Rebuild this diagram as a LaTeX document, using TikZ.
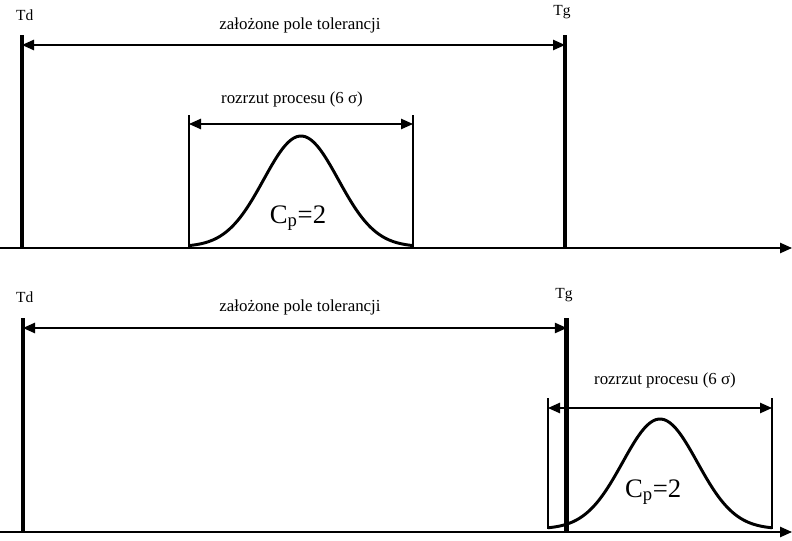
\documentclass[tikz,border=0pt]{standalone}
\usepackage{fontspec}
\setmainfont{Liberation Serif}
\usetikzlibrary{arrows.meta}

\begin{document}
\begin{tikzpicture}[
  tolline/.style={line width=3.4pt},
  thinline/.style={line width=1pt},
  dimarrow/.style={{Triangle[length=3mm,width=2.6mm]}-{Triangle[length=3mm,width=2.6mm]}, line width=1pt},
  baseaxis/.style={-{Triangle[length=3mm,width=2.6mm]}, line width=1pt},
  bell/.style={line width=2.1pt, line join=round},
  tname/.style={font=\fontsize{11}{13}\selectfont, inner sep=0pt},
  txt/.style={font=\fontsize{12}{14}\selectfont, inner sep=0pt},
  cp/.style={font=\fontsize{19}{22}\selectfont, inner sep=0pt}
]
\useasboundingbox (0,0) rectangle (19.8,13.5);

% Upper case: process inside the tolerance field
\coordinate (axA0) at (0,7.3);
\coordinate (axA1) at (19.8,7.3);
\draw[baseaxis] (axA0) -- (axA1);

\coordinate (tdA) at (0.55,7.3);
\coordinate (tdAtop) at (0.55,12.625);
\coordinate (tgA) at (14.125,7.3);
\coordinate (tgAtop) at (14.125,12.625);
\draw[tolline] (tdA) -- (tdAtop);
\draw[tolline] (tgA) -- (tgAtop);
\node[tname] (tdAlab) at (0.62,13.12) {Td};
\node[tname] (tgAlab) at (14.05,13.2) {Tg};

\coordinate (tolAl) at (0.55,12.375);
\coordinate (tolAr) at (14.125,12.375);
\draw[dimarrow] (tolAl) -- (tolAr);
\node[txt] (tolAlab) at (7.5,12.875) {założone pole tolerancji};

% process spread
\coordinate (prAl) at (4.725,7.33);
\coordinate (prAltop) at (4.725,10.625);
\coordinate (prAr) at (10.325,7.33);
\coordinate (prArtop) at (10.325,10.625);
\draw[thinline] (prAl) -- (prAltop);
\draw[thinline] (prAr) -- (prArtop);
\coordinate (sprAl) at (4.725,10.4);
\coordinate (sprAr) at (10.325,10.4);
\draw[dimarrow] (sprAl) -- (sprAr);
\node[txt] (sprAlab) at (7.3,11.025) {rozrzut procesu (6 σ)};

\draw[bell] plot[domain=-3:3, samples=80, smooth] ({7.525+0.9333*\x}, {7.33+2.77*exp(-\x*\x/2)});
\node[cp] (cpA) at (7.45,8.05) {C\textsubscript{p}=2};

% Lower case: process shifted over the upper limit
\coordinate (axB0) at (0,0.2);
\coordinate (axB1) at (19.8,0.2);
\draw[baseaxis] (axB0) -- (axB1);

\coordinate (tdB) at (0.575,0.2);
\coordinate (tdBtop) at (0.575,5.55);
\coordinate (tgB) at (14.17,0.2);
\coordinate (tgBtop) at (14.17,5.55);
\draw[tolline] (tdB) -- (tdBtop);
\draw[tolline] (tgB) -- (tgBtop);
\node[tname] (tdBlab) at (0.62,6.075) {Td};
\node[tname] (tgBlab) at (14.1,6.125) {Tg};

\coordinate (tolBl) at (0.575,5.3);
\coordinate (tolBr) at (14.17,5.3);
\draw[dimarrow] (tolBl) -- (tolBr);
\node[txt] (tolBlab) at (7.5,5.825) {założone pole tolerancji};

% process spread
\coordinate (prBl) at (13.7,0.275);
\coordinate (prBltop) at (13.7,3.55);
\coordinate (prBr) at (19.3,0.275);
\coordinate (prBrtop) at (19.3,3.55);
\draw[thinline] (prBl) -- (prBltop);
\draw[thinline] (prBr) -- (prBrtop);
\coordinate (sprBl) at (13.7,3.3);
\coordinate (sprBr) at (19.3,3.3);
\draw[dimarrow] (sprBl) -- (sprBr);
\node[txt] (sprBlab) at (16.625,4.0) {rozrzut procesu (6 σ)};

\draw[bell] plot[domain=-3:3, samples=80, smooth] ({16.5+0.9333*\x}, {0.275+2.75*exp(-\x*\x/2)});
\node[cp] (cpB) at (16.33,1.2) {C\textsubscript{p}=2};

\end{tikzpicture}
\end{document}
